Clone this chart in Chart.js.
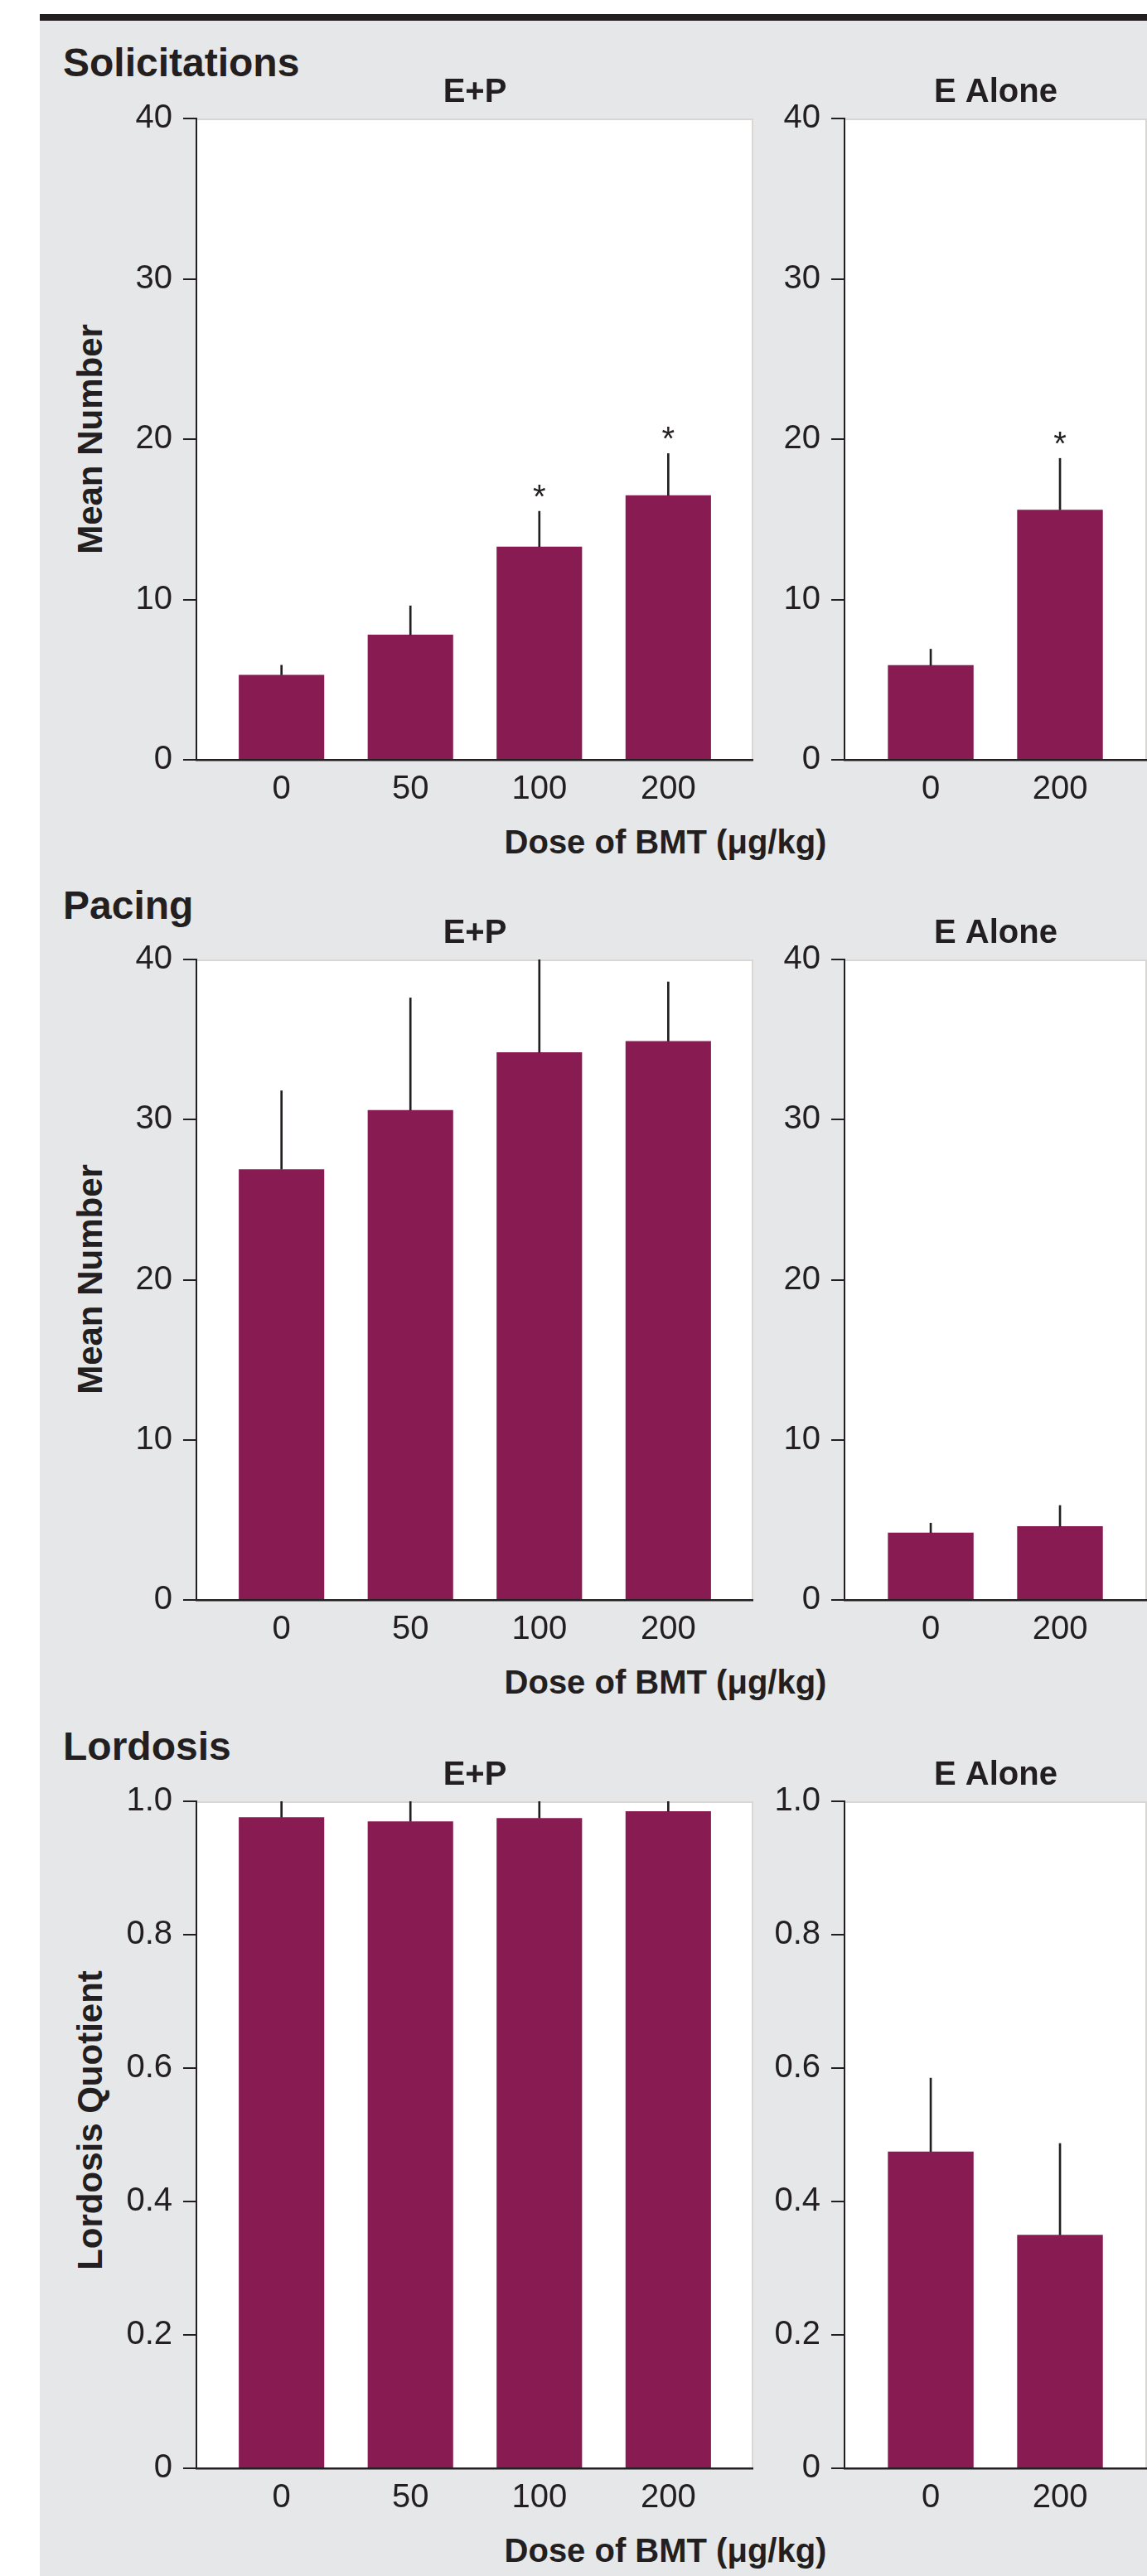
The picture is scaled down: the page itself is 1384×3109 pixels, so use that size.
<!DOCTYPE html>
<html>
<head>
<meta charset="utf-8">
<title>BMT dose and sexual behaviour</title>
<script src="https://cdn.jsdelivr.net/npm/chart.js@4.4.1/dist/chart.umd.min.js"></script>
<style>
  html, body { margin: 0; padding: 0; background: #ffffff; }
  #fig { position: relative; width: 1384px; height: 3109px; overflow: hidden; background: #ffffff;
         font-family: "Liberation Sans", Arial, Helvetica, sans-serif; color: #231f20; }
  #panel { position: absolute; left: 48px; top: 25px; right: 0; bottom: 0; background: #e6e7e9; }
  #rule { position: absolute; left: 48px; top: 17px; right: 0; height: 8px; background: #231f20; }
  .rowTitle { position: absolute; font-weight: bold; font-size: 48px; line-height: 48px; white-space: nowrap; }
  .xTitle { position: absolute; font-weight: bold; font-size: 40px; line-height: 40px; white-space: nowrap;
            transform: translateX(-50%); }
  .yTitle { position: absolute; font-weight: bold; font-size: 42px; line-height: 42px; white-space: nowrap;
            transform: translate(-50%, -50%) rotate(-90deg); }
  canvas { position: absolute; }
</style>
</head>
<body>
<div id="fig">
  <div id="panel"></div>
  <div id="rule"></div>
</div>
<script>
// ---- data -------------------------------------------------------------
const dosesEP = ['0', '50', '100', '200'];
const dosesE = ['0', '200'];

const solicitEP = [5.3, 7.8, 13.3, 16.5];
const solicitEPsem = [0.6, 1.8, 2.2, 2.6];
const solicitEPsig = [false, false, true, true];
const solicitE = [5.9, 15.6];
const solicitEsem = [1.0, 3.2];
const solicitEsig = [false, true];

const pacingEP = [26.9, 30.6, 34.2, 34.9];
const pacingEPsem = [4.9, 7.0, 5.8, 3.7];
const pacingEPsig = [false, false, false, false];
const pacingE = [4.2, 4.6];
const pacingEsem = [0.6, 1.3];
const pacingEsig = [false, false];

const lordosisEP = [0.976, 0.970, 0.975, 0.985];
const lordosisEPsem = [0.024, 0.030, 0.025, 0.015];
const lordosisEPsig = [false, false, false, false];
const lordosisE = [0.475, 0.350];
const lordosisEsem = [0.11, 0.137];
const lordosisEsig = [false, false];

const countTicks = [0, 10, 20, 30, 40];
const quotientTicks = [0, 0.2, 0.4, 0.6, 0.8, 1.0];
const quotientTickLabels = ['0', '0.2', '0.4', '0.6', '0.8', '1.0'];

// ---- styling ------------------------------------------------------------
const FONT = '"Liberation Sans", Arial, Helvetica, sans-serif';
const INK = '#231f20';
const BAR = '#891b53';
Chart.defaults.font.family = FONT;
Chart.defaults.color = INK;

// white plotting field with a faint top/right frame
const plotFrame = {
  id: 'plotFrame',
  beforeDraw(chart) {
    const { ctx, chartArea: a } = chart;
    ctx.save();
    ctx.fillStyle = '#ffffff';
    ctx.fillRect(a.left, a.top, a.right - a.left, a.bottom - a.top);
    ctx.strokeStyle = '#d9d6d3';
    ctx.lineWidth = 2;
    ctx.beginPath();
    ctx.moveTo(a.left, a.top + 1);
    ctx.lineTo(a.right - 1, a.top + 1);
    ctx.lineTo(a.right - 1, a.bottom);
    ctx.stroke();
    ctx.restore();
  }
};

// asterisks over the error bars of significant groups
const sigMarks = {
  id: 'sigMarks',
  afterDatasetsDraw(chart, args, opts) {
    const flags = opts.flags || [];
    const tops = opts.tops || [];
    const { ctx, scales: { x, y } } = chart;
    ctx.save();
    ctx.fillStyle = INK;
    ctx.font = '40px ' + FONT;
    ctx.textAlign = 'center';
    ctx.textBaseline = 'alphabetic';
    flags.forEach((f, i) => {
      if (!f) return;
      ctx.fillText('*', x.getPixelForValue(i), y.getPixelForValue(tops[i]) - 4);
    });
    ctx.restore();
  }
};

const fig = document.getElementById('fig');

function addText(cls, text, left, top) {
  const d = document.createElement('div');
  d.className = cls;
  d.textContent = text;
  d.style.left = left + 'px';
  d.style.top = top + 'px';
  fig.appendChild(d);
}

// one panel: bars + upper SEM whiskers on a linear index axis
function panel(p) {
  const canvas = document.createElement('canvas');
  const titleH = 65, xAxisH = 62;
  const w = p.width, h = titleH + (p.B - p.T) + xAxisH;
  canvas.width = w; canvas.height = h;
  canvas.style.left = p.left + 'px';
  canvas.style.top = (p.T - titleH) + 'px';
  canvas.style.width = w + 'px';
  canvas.style.height = h + 'px';
  fig.appendChild(canvas);

  const tops = p.means.map((m, i) => m + p.sems[i]);
  const tickLabels = p.yTickLabels || p.yTicks.map(String);

  new Chart(canvas, {
    type: 'bar',
    data: {
      datasets: [
        {
          data: p.means.map((m, i) => ({ x: i, y: m })),
          backgroundColor: BAR,
          categoryPercentage: 1,
          barPercentage: 0.663,
          grouped: false,
          order: 1
        },
        {
          data: p.means.map((m, i) => ({ x: i, y: [m, tops[i]] })),
          backgroundColor: INK,
          barThickness: 2,
          grouped: false,
          order: 0
        }
      ]
    },
    options: {
      responsive: false,
      animation: false,
      events: [],
      layout: { padding: 0 },
      plugins: {
        legend: { display: false },
        tooltip: { enabled: false },
        title: {
          display: true, text: p.title, fullSize: false, color: INK,
          font: { family: FONT, size: 40, weight: 'bold', lineHeight: 1.2 },
          padding: { top: 10, bottom: 7 }
        },
        sigMarks: { flags: p.sig, tops: tops }
      },
      scales: {
        x: {
          type: 'linear', min: p.xMin, max: p.xMax, offset: false,
          grid: { display: false, drawTicks: false },
          border: { display: true, color: INK, width: 2.5, z: 1 },
          ticks: {
            padding: 12, color: INK, autoSkip: false, maxRotation: 0,
            font: { family: FONT, size: 40 },
            callback: (v) => p.labels[Math.round(v)]
          },
          afterBuildTicks: (s) => { s.ticks = p.labels.map((_, i) => ({ value: i })); },
          afterFit: (s) => { s.height = xAxisH; }
        },
        y: {
          type: 'linear', min: 0, max: p.yTicks[p.yTicks.length - 1],
          grid: { drawOnChartArea: false, drawTicks: true, tickLength: 16, color: INK, lineWidth: 2 },
          border: { display: true, color: INK, width: 2, z: 1 },
          ticks: {
            padding: 13, color: INK, font: { family: FONT, size: 40 },
            callback: (v) => {
              const k = p.yTicks.findIndex(t => Math.abs(t - v) < 1e-9);
              return k >= 0 ? tickLabels[k] : '';
            }
          },
          afterBuildTicks: (s) => { s.ticks = p.yTicks.map(v => ({ value: v })); },
          afterFit: (s) => { s.width = p.yW; }
        }
      }
    },
    plugins: [plotFrame, sigMarks]
  });
}

const rows = [
  { name: 'Solicitations', yLabel: 'Mean Number', T: 143, B: 917, nameBase: 93, yLabelY: 530,
    yTicks: countTicks, yTickLabels: null,
    ep: [solicitEP, solicitEPsem, solicitEPsig], e: [solicitE, solicitEsem, solicitEsig] },
  { name: 'Pacing', yLabel: 'Mean Number', T: 1158, B: 1931, nameBase: 1110, yLabelY: 1544,
    yTicks: countTicks, yTickLabels: null,
    ep: [pacingEP, pacingEPsem, pacingEPsig], e: [pacingE, pacingEsem, pacingEsig] },
  { name: 'Lordosis', yLabel: 'Lordosis Quotient', T: 2174, B: 2979, nameBase: 2125, yLabelY: 2559,
    yTicks: quotientTicks, yTickLabels: quotientTickLabels,
    ep: [lordosisEP, lordosisEPsem, lordosisEPsig], e: [lordosisE, lordosisEsem, lordosisEsig] }
];

rows.forEach(r => {
  addText('rowTitle', r.name, 76, r.nameBase - 40.6);
  addText('yTitle', r.yLabel, 109, r.yLabelY);
  addText('xTitle', 'Dose of BMT (\u03bcg/kg)', 803, r.B + 113 - 33.9);

  panel({ left: 48, width: 861, yW: 189, T: r.T, B: r.B, title: 'E+P',
          labels: dosesEP, means: r.ep[0], sems: r.ep[1], sig: r.ep[2],
          xMin: -0.66, xMax: 3.66, yTicks: r.yTicks, yTickLabels: r.yTickLabels });
  panel({ left: 930, width: 454, yW: 89, T: r.T, B: r.B, title: 'E Alone',
          labels: dosesE, means: r.e[0], sems: r.e[1], sig: r.e[2],
          xMin: -0.667, xMax: 1.673, yTicks: r.yTicks, yTickLabels: r.yTickLabels });
});
</script>
</body>
</html>
